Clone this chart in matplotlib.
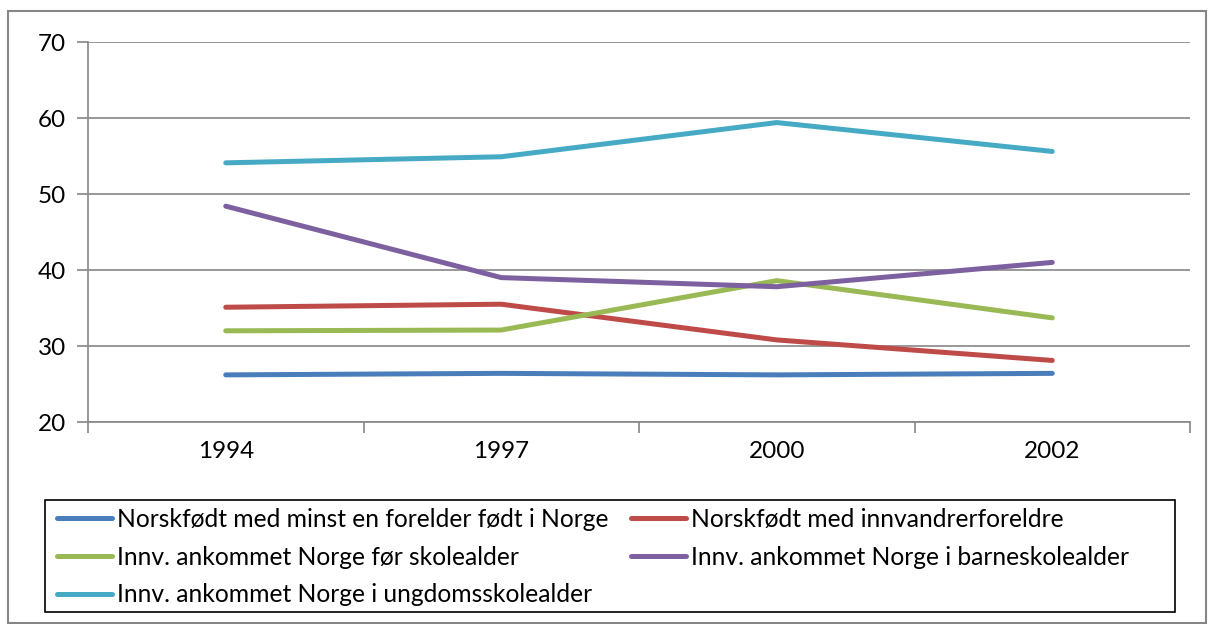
"""
    plot school results by background, 1994-2002
"""

import matplotlib
matplotlib.use('Agg')
import matplotlib.pyplot as plt
from matplotlib.patches import Rectangle

years = ['1994', '1997', '2000', '2002']

norsk_forelder = [26.2, 26.4, 26.2, 26.4]
norsk_innv = [35.1, 35.5, 30.8, 28.1]
innv_for_skole = [32.0, 32.1, 38.6, 33.7]
innv_barneskole = [48.4, 39.0, 37.8, 41.0]
innv_ungdomsskole = [54.1, 54.9, 59.4, 55.6]

labels = ['Norskfødt med minst en forelder født i Norge',
          'Norskfødt med innvandrerforeldre',
          'Innv. ankommet Norge før skolealder',
          'Innv. ankommet Norge i barneskolealder',
          'Innv. ankommet Norge i ungdomsskolealder']
colors = ['#4A7EBB', '#BE4B48', '#98B954', '#7D60A0', '#46AAC5']
series = [norsk_forelder, norsk_innv, innv_for_skole, innv_barneskole, innv_ungdomsskole]

plt.rcParams['font.family'] = ['Lato', 'DejaVu Sans']
W, H = 1214, 624
fig = plt.figure(figsize=(W / 100, H / 100), dpi=100)
ax = fig.add_axes([88 / W, 1 - 422 / H, (1190 - 88) / W, (422 - 42) / H])

x = list(range(len(years)))
lines = []
for vals, lab, col in zip(series, labels, colors):
    ln, = ax.plot(x, vals, color=col, lw=3.6, solid_capstyle='round', label=lab)
    lines.append(ln)

grid = '#868686'
ax.set_ylim(20, 70)
ax.set_yticks(range(20, 71, 10))
ax.set_xlim(-0.5, len(years) - 0.5)
ax.set_xticks([i - 0.5 for i in range(len(years) + 1)])
ax.set_xticklabels([])
ax.set_xticks(x, minor=True)
ax.set_xticklabels(years, minor=True)
ax.tick_params(axis='x', which='minor', length=0, pad=14, labelsize=17.5)
ax.tick_params(axis='x', which='major', length=8, color=grid, width=1.2)
ax.tick_params(axis='y', length=8, color=grid, width=1.2, pad=8, labelsize=17.5)
ax.grid(axis='y', color=grid, lw=1.2)
ax.set_axisbelow(True)
for s in ['top', 'right']:
    ax.spines[s].set_visible(False)
for s in ['left', 'bottom']:
    ax.spines[s].set_color(grid)
    ax.spines[s].set_linewidth(1.2)

# legend: column-major order so rows read blue/red, green/purple, cyan
order = [0, 2, 4, 1, 3]
fig.legend([lines[i] for i in order], [labels[i] for i in order], ncol=2,
           loc='upper left', bbox_to_anchor=(57 / W, 1 - 508 / H),
           frameon=False, fontsize=17.7, handlelength=2.25, handletextpad=0.2,
           columnspacing=0.9, labelspacing=0.6, borderpad=0, borderaxespad=0)
fig.add_artist(Rectangle((45 / W, 1 - 612 / H), (1175 - 45) / W, (612 - 500) / H,
                         transform=fig.transFigure, fill=False, ec='black', lw=1.2))
fig.add_artist(Rectangle((8 / W, 1 / H), (1206 - 8) / W, (622 - 10) / H,
                         transform=fig.transFigure, fill=False, ec='#868686', lw=1.5))

plt.savefig('out.png', dpi=100)
plt.close()
